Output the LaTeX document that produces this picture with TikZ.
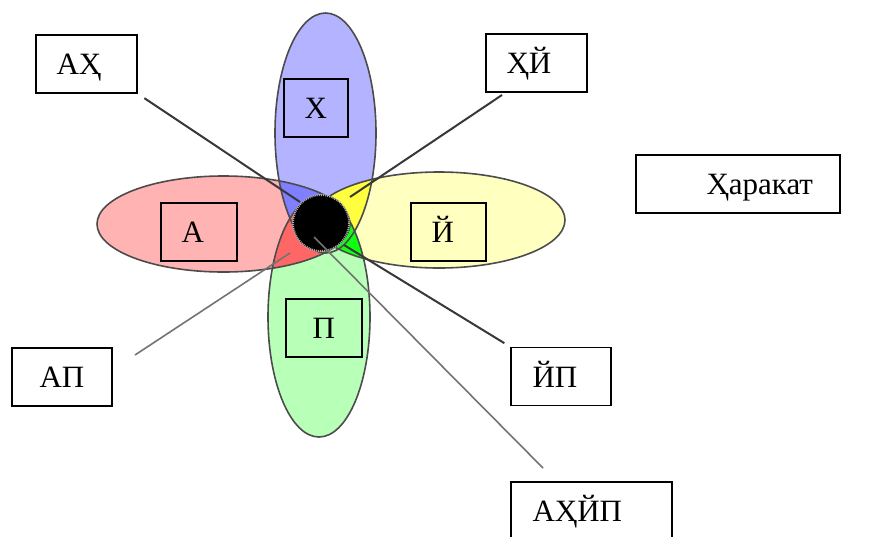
\documentclass[tikz,border=0pt]{standalone}
\usepackage{fontspec}
\setmainfont{Liberation Serif}
\usetikzlibrary{calc}
\definecolor{petalA}{HTML}{FFB3B3}
\definecolor{petalY}{HTML}{FFFFBF}
\definecolor{petalX}{HTML}{B3B3FF}
\definecolor{petalP}{HTML}{B8FFB8}
\definecolor{meetAX}{HTML}{7F7FFF}
\definecolor{meetXY}{HTML}{FFFF40}
\definecolor{meetAP}{HTML}{FF6666}
\definecolor{meetYP}{HTML}{11FF11}

\begin{document}
\begin{tikzpicture}[x=1pt, y=-1pt,
  petal/.style={draw=black!70, line width=1.6pt},
  lbox/.style={draw, line width=1.4pt, rectangle, inner sep=0pt, minimum height=58pt},
  ltext/.style={anchor=base west, inner sep=0pt, font=\fontsize{31}{36}\selectfont},
  lead/.style={draw=black!78, line width=2pt},
  leadgrey/.style={draw=black!55, line width=1.6pt}
]
  \useasboundingbox (0,0) rectangle (875,536);

  % petals
  \fill[petalA] (223.5,224) ellipse [x radius=126.5, y radius=48];
  \fill[petalY] (439,220) ellipse [x radius=126, y radius=48];
  \fill[petalX] (325.5,133) ellipse [x radius=50.5, y radius=120];
  \fill[petalP] (319,317) ellipse [x radius=51, y radius=120];

  % overlaps
  \begin{scope}
    \clip (223.5,224) ellipse [x radius=126.5, y radius=48];
    \fill[meetAX] (325.5,133) ellipse [x radius=50.5, y radius=120];
  \end{scope}
  \begin{scope}
    \clip (439,220) ellipse [x radius=126, y radius=48];
    \fill[meetXY] (325.5,133) ellipse [x radius=50.5, y radius=120];
  \end{scope}
  \begin{scope}
    \clip (223.5,224) ellipse [x radius=126.5, y radius=48];
    \fill[meetAP] (319,317) ellipse [x radius=51, y radius=120];
  \end{scope}
  \begin{scope}
    \clip (439,220) ellipse [x radius=126, y radius=48];
    \fill[meetYP] (319,317) ellipse [x radius=51, y radius=120];
  \end{scope}

  \draw[petal] (223.5,224) ellipse [x radius=126.5, y radius=48];
  \draw[petal] (439,220) ellipse [x radius=126, y radius=48];
  \draw[petal] (325.5,133) ellipse [x radius=50.5, y radius=120];
  \draw[petal] (319,317) ellipse [x radius=51, y radius=120];

  % core
  \draw[fill=black, draw=black!35, line width=2pt, dash pattern=on 1pt off 1pt] (321,223) circle [radius=28];

  % labels inside petals
  \node[lbox, minimum width=64pt] (x) at (316,108) {};
  \node[lbox, minimum width=76pt] (a) at (199,232) {};
  \node[lbox, minimum width=75pt] (y) at (448.5,232) {};
  \node[lbox, minimum width=76pt] (p) at (324,328) {};
  \node[ltext] (x-t) at ($(x.west)+(21,10.5)$) {Х};
  \node[ltext] (a-t) at ($(a.west)+(21,10.5)$) {А};
  \node[ltext] (y-t) at ($(y.west)+(21,10.5)$) {Й};
  \node[ltext] (p-t) at ($(p.west)+(27,10.5)$) {П};

  % outer labels
  \node[lbox, minimum width=101pt] (ah)   at (86.5,64) {};
  \node[lbox, minimum width=101pt] (hy)   at (536.5,63) {};
  \node[lbox, minimum width=204pt] (har)  at (738,184) {};
  \node[lbox, minimum width=100pt] (ap)   at (62,377) {};
  \node[lbox, minimum width=100pt] (yp)   at (561,376.5) {};
  \node[lbox, minimum width=161pt] (ahyp) at (591.5,511) {};
  \node[ltext] (ah-t)   at ($(ah.west)+(21,10.5)$)   {АҲ};
  \node[ltext] (hy-t)   at ($(hy.west)+(21,10.5)$)   {ҲЙ};
  \node[ltext] (har-t)  at ($(har.west)+(71,10.5)$)  {Ҳаракат};
  \node[ltext] (ap-t)   at ($(ap.west)+(28,10.5)$)   {АП};
  \node[ltext] (yp-t)   at ($(yp.west)+(22,10.5)$)   {ЙП};
  \node[ltext] (ahyp-t) at ($(ahyp.west)+(22,10.5)$) {АҲЙП};

  % leader ends
  \coordinate (ah-in)    at (300,202);
  \coordinate (hy-out)   at (502,95);
  \coordinate (hy-in)    at (350,197);
  \coordinate (ap-out)   at (135,355);
  \coordinate (ap-in)    at (290,253);
  \coordinate (yp-in)    at (344,245);
  \coordinate (ahyp-out) at (543,468);
  \coordinate (ahyp-in)  at (314,237);

  \draw[lead, shorten <=8pt] (ah.south east) -- (ah-in);
  \draw[lead] (hy-out) -- (hy-in);
  \draw[leadgrey] (ap-out) -- (ap-in);
  \draw[lead, shorten <=7pt] (yp.north west) -- (yp-in);
  \draw[leadgrey] (ahyp-out) -- (ahyp-in);
\end{tikzpicture}
\end{document}
